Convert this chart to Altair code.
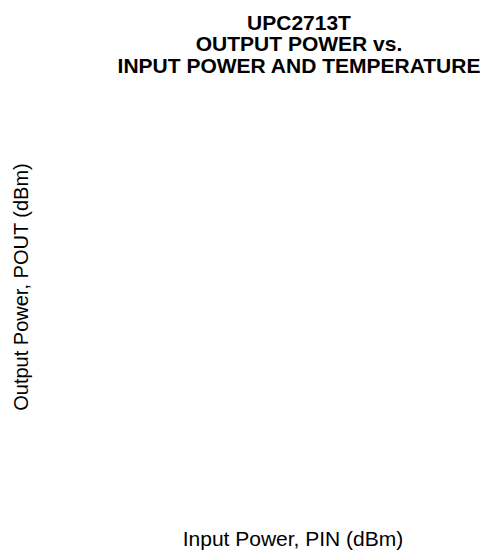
import altair as alt
import pandas as pd

# The reference plot area is empty: no curves are drawn.
input_power_dbm = []
output_power_dbm = []
temperature = []

title_lines = ["UPC2713T", "OUTPUT POWER vs.", "INPUT POWER AND TEMPERATURE"]
x_title = "Input Power, PIN (dBm)"
y_title = "Output Power, POUT (dBm)"

df = pd.DataFrame({
    "pin": pd.Series(input_power_dbm, dtype=float),
    "pout": pd.Series(output_power_dbm, dtype=float),
    "temp": pd.Series(temperature, dtype=str),
})

FONT = "Liberation Sans"

chart = alt.Chart(df).mark_line().encode(
    x=alt.X("pin:Q", title=x_title,
            axis=alt.Axis(domain=False, ticks=False, labels=False, grid=False,
                          titleFont=FONT, titleFontSize=21, titleFontWeight="normal",
                          titleColor="black", titleX=244.5, titleY=37,
                          titleBaseline="alphabetic", titleAlign="center")),
    y=alt.Y("pout:Q", title=y_title,
            axis=alt.Axis(domain=False, ticks=False, labels=False, grid=False,
                          titleFont=FONT, titleFontSize=20, titleFontWeight="normal",
                          titleColor="black", titleX=-27, titleY=208.5,
                          titleAngle=270, titleBaseline="middle", titleAlign="center")),
    color=alt.Color("temp:N", legend=None),
).properties(
    width=430,
    height=430,
    padding={"left": 40, "top": 70, "right": 2, "bottom": 44},
    autosize=alt.AutoSizeParams(type="none"),
    title=alt.TitleParams(
        text=title_lines, font=FONT, fontSize=21, fontWeight="bold",
        color="black", anchor="middle", dx=36, dy=21, lineHeight=21.7,
        baseline="alphabetic", offset=5,
    ),
).configure_view(stroke=None)

chart.save("out.html", embed_options={"renderer": "svg", "actions": False})
